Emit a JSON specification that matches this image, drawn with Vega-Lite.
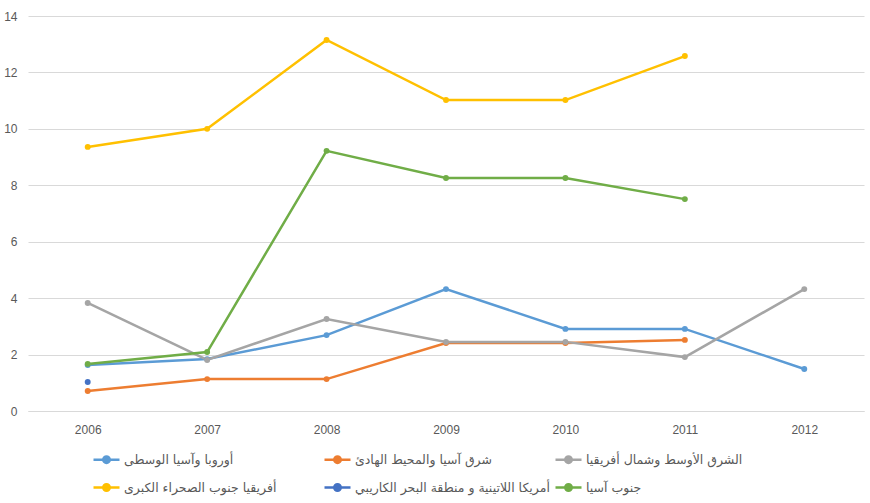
{
  "$schema": "https://vega.github.io/schema/vega-lite/v6.json",
  "width": 836,
  "height": 395,
  "autosize": "none",
  "padding": {"left": 28, "top": 16, "right": 6, "bottom": 92},
  "background": "white",
  "config": {"view": {"stroke": null}, "font": "Liberation Sans"},
  "data": {
    "values": [
      {"region": "أوروبا وآسيا الوسطى", "year": "2006", "value": 1.63},
      {"region": "أوروبا وآسيا الوسطى", "year": "2007", "value": 1.84},
      {"region": "أوروبا وآسيا الوسطى", "year": "2008", "value": 2.69},
      {"region": "أوروبا وآسيا الوسطى", "year": "2009", "value": 4.32},
      {"region": "أوروبا وآسيا الوسطى", "year": "2010", "value": 2.91},
      {"region": "أوروبا وآسيا الوسطى", "year": "2011", "value": 2.91},
      {"region": "أوروبا وآسيا الوسطى", "year": "2012", "value": 1.49},
      {"region": "شرق آسيا والمحيط الهادئ", "year": "2006", "value": 0.71},
      {"region": "شرق آسيا والمحيط الهادئ", "year": "2007", "value": 1.13},
      {"region": "شرق آسيا والمحيط الهادئ", "year": "2008", "value": 1.13},
      {"region": "شرق آسيا والمحيط الهادئ", "year": "2009", "value": 2.41},
      {"region": "شرق آسيا والمحيط الهادئ", "year": "2010", "value": 2.41},
      {"region": "شرق آسيا والمحيط الهادئ", "year": "2011", "value": 2.52},
      {"region": "الشرق الأوسط وشمال أفريقيا", "year": "2006", "value": 3.83},
      {"region": "الشرق الأوسط وشمال أفريقيا", "year": "2007", "value": 1.81},
      {"region": "الشرق الأوسط وشمال أفريقيا", "year": "2008", "value": 3.26},
      {"region": "الشرق الأوسط وشمال أفريقيا", "year": "2009", "value": 2.45},
      {"region": "الشرق الأوسط وشمال أفريقيا", "year": "2010", "value": 2.45},
      {"region": "الشرق الأوسط وشمال أفريقيا", "year": "2011", "value": 1.91},
      {"region": "الشرق الأوسط وشمال أفريقيا", "year": "2012", "value": 4.32},
      {"region": "أفريقيا جنوب الصحراء الكبرى", "year": "2006", "value": 9.36},
      {"region": "أفريقيا جنوب الصحراء الكبرى", "year": "2007", "value": 10.0},
      {"region": "أفريقيا جنوب الصحراء الكبرى", "year": "2008", "value": 13.15},
      {"region": "أفريقيا جنوب الصحراء الكبرى", "year": "2009", "value": 11.02},
      {"region": "أفريقيا جنوب الصحراء الكبرى", "year": "2010", "value": 11.02},
      {"region": "أفريقيا جنوب الصحراء الكبرى", "year": "2011", "value": 12.58},
      {"region": "أمريكا اللاتينية و منطقة البحر الكاريبي", "year": "2006", "value": 1.03},
      {"region": "جنوب آسيا", "year": "2006", "value": 1.67},
      {"region": "جنوب آسيا", "year": "2007", "value": 2.09},
      {"region": "جنوب آسيا", "year": "2008", "value": 9.22},
      {"region": "جنوب آسيا", "year": "2009", "value": 8.26},
      {"region": "جنوب آسيا", "year": "2010", "value": 8.26},
      {"region": "جنوب آسيا", "year": "2011", "value": 7.51}
    ]
  },
  "mark": {"type": "line", "strokeWidth": 2.5, "point": {"filled": true, "size": 35}},
  "encoding": {
    "x": {
      "field": "year",
      "type": "ordinal",
      "scale": {"type": "point", "padding": 0.5},
      "axis": {
        "title": null,
        "labelAngle": 0,
        "ticks": false,
        "labelPadding": 13,
        "labelFontSize": 12,
        "labelColor": "#595959",
        "domainColor": "#d9d9d9",
        "grid": false
      }
    },
    "y": {
      "field": "value",
      "type": "quantitative",
      "scale": {"domain": [0, 14], "nice": false},
      "axis": {
        "title": null,
        "values": [0, 2, 4, 6, 8, 10, 12, 14],
        "ticks": false,
        "domain": false,
        "labelPadding": 11,
        "labelFontSize": 12,
        "labelColor": "#595959",
        "gridColor": "#d9d9d9"
      }
    },
    "color": {
      "field": "region",
      "type": "nominal",
      "scale": {
        "domain": ["أوروبا وآسيا الوسطى", "شرق آسيا والمحيط الهادئ", "الشرق الأوسط وشمال أفريقيا", "أفريقيا جنوب الصحراء الكبرى", "أمريكا اللاتينية و منطقة البحر الكاريبي", "جنوب آسيا"],
        "range": ["#5B9BD5", "#ED7D31", "#A5A5A5", "#FFC000", "#4472C4", "#70AD47"]
      },
      "legend": {
        "title": null,
        "orient": "none",
        "legendX": 64,
        "legendY": 429,
        "columns": 3,
        "direction": "horizontal",
        "gridAlign": "all",
        "columnPadding": 0,
        "rowPadding": 5,
        "labelFontSize": 12.5,
        "labelOffset": 3,
        "labelColor": "#595959",
        "labelFont": "DejaVu Sans",
        "labelLimit": 300,
        "symbolType": "M-1,0L1,0M-0.25,0A0.25,0.25,0,1,1,0.25,0A0.25,0.25,0,1,1,-0.25,0",
        "symbolSize": 676,
        "symbolStrokeWidth": 2.5,
        "encode": {"symbols": {"update": {"fill": {"scale": "color", "field": "value"}}}}
      }
    }
  }
}
